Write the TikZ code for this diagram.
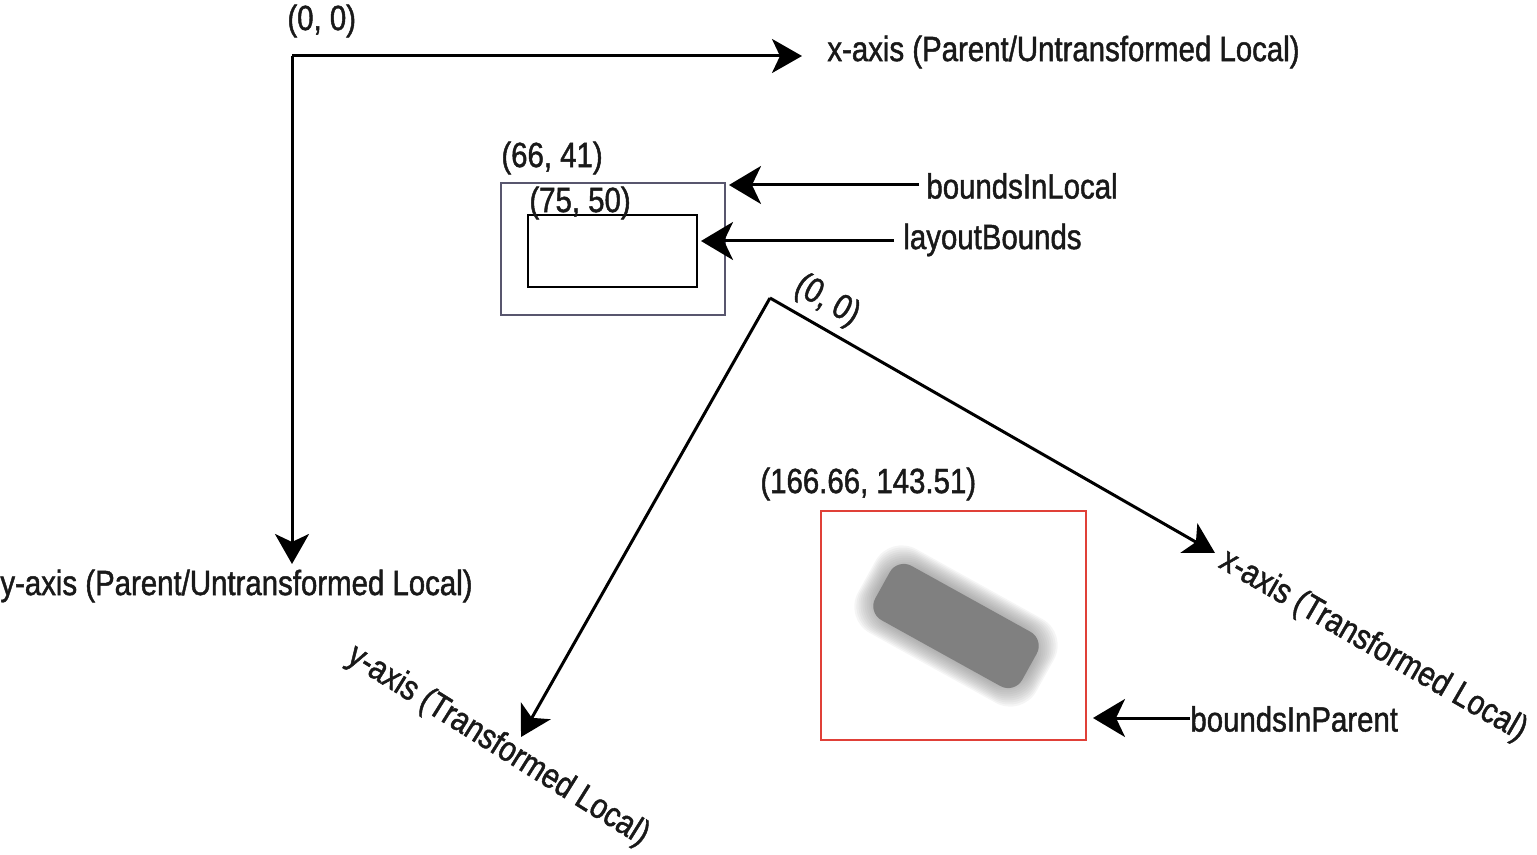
\documentclass[tikz,border=0pt]{standalone}
\usepackage{fontspec}
\setmainfont{Liberation Sans}[FakeStretch=0.84,FakeBold=1.3]
\usetikzlibrary{arrows.meta}
\begin{document}
\begin{tikzpicture}[x=0.5pt,y=-0.5pt,
  lbl/.style={font=\fontsize{17.5pt}{20pt}\selectfont, inner sep=0pt, text=black!90},
  axisline/.style={line width=1.5pt, -{Stealth[length=15pt,width=17pt,inset=4pt]}},
  ptr/.style={line width=1.5pt, -{Stealth[length=16pt,width=19pt,inset=4.5pt]}},
  box/.style={line width=1.3pt}]
\useasboundingbox (0,0) rectangle (1537,855);
% parent axes
\coordinate (O) at (292,56);
\coordinate (XE) at (802,56);
\coordinate (YE) at (292,564);
\draw[axisline] (O) -- (XE);
\draw[axisline] (O) -- (YE);
\node[lbl, anchor=west] (o1) at (287,21) {(0, 0)};
\node[lbl, anchor=west] (xl) at (827,52) {x-axis (Parent/Untransformed Local)};
\node[lbl, anchor=west] (yl) at (0,586) {y-axis (Parent/Untransformed Local)};
% boundsInLocal and layoutBounds
\draw[box, draw={rgb,255:red,88;green,86;blue,110}] (501,183) rectangle (725,315);
\draw[box, draw=black] (528,215) rectangle (697,287);
\node[lbl, anchor=west] (c1) at (501,158) {(66, 41)};
\node[lbl, anchor=west] (c2) at (529,203) {(75, 50)};
\node[lbl, anchor=west] (bl) at (926,186) {boundsInLocal};
\node[lbl, anchor=west] (lb) at (903,240) {layoutBounds};
\coordinate (blT) at (729,185);
\coordinate (lbT) at (701,241);
\draw[ptr] (bl.west) ++(-7,-1) -- (blT);
\draw[ptr] (lb.west) ++(-9,1) -- (lbT);
% transformed axes
\coordinate (T) at (770,298);
\coordinate (TX) at (1215,553);
\coordinate (TY) at (521,737);
\draw[axisline] (T) -- (TX);
\draw[axisline] (T) -- (TY);
\node[lbl, rotate=-30] (o2) at (827,301) {(0, 0)};
\node[lbl, rotate=-30] (txl) at (1373,646) {x-axis (Transformed Local)};
\node[lbl, rotate=-32] (tyl) at (498,746) {y-axis (Transformed Local)};
% boundsInParent
\draw[box, draw={rgb,255:red,224;green,64;blue,56}] (821,511) rectangle (1086,740);
\node[lbl, anchor=west] (c3) at (760,484) {(166.66, 143.51)};
\node[lbl, anchor=west] (bp) at (1190,719) {boundsInParent};
\coordinate (bpT) at (1093,718);
\draw[ptr] (bp.west) ++(0,-1) -- (bpT);
% blurred shape
\begin{scope}[shift={(956,626)}, rotate=-29]
\foreach \i in {0,...,11}{
  \pgfmathsetmacro{\w}{204-3*\i}
  \pgfmathsetmacro{\h}{96-3*\i}
  \fill[black!50, opacity=0.08, rounded corners=15pt]
    (-\w/2,-\h/2) rectangle (\w/2,\h/2);
}
\fill[black!50, rounded corners=8pt] (-84,-31) rectangle (84,31);
\end{scope}
\end{tikzpicture}
\end{document}
